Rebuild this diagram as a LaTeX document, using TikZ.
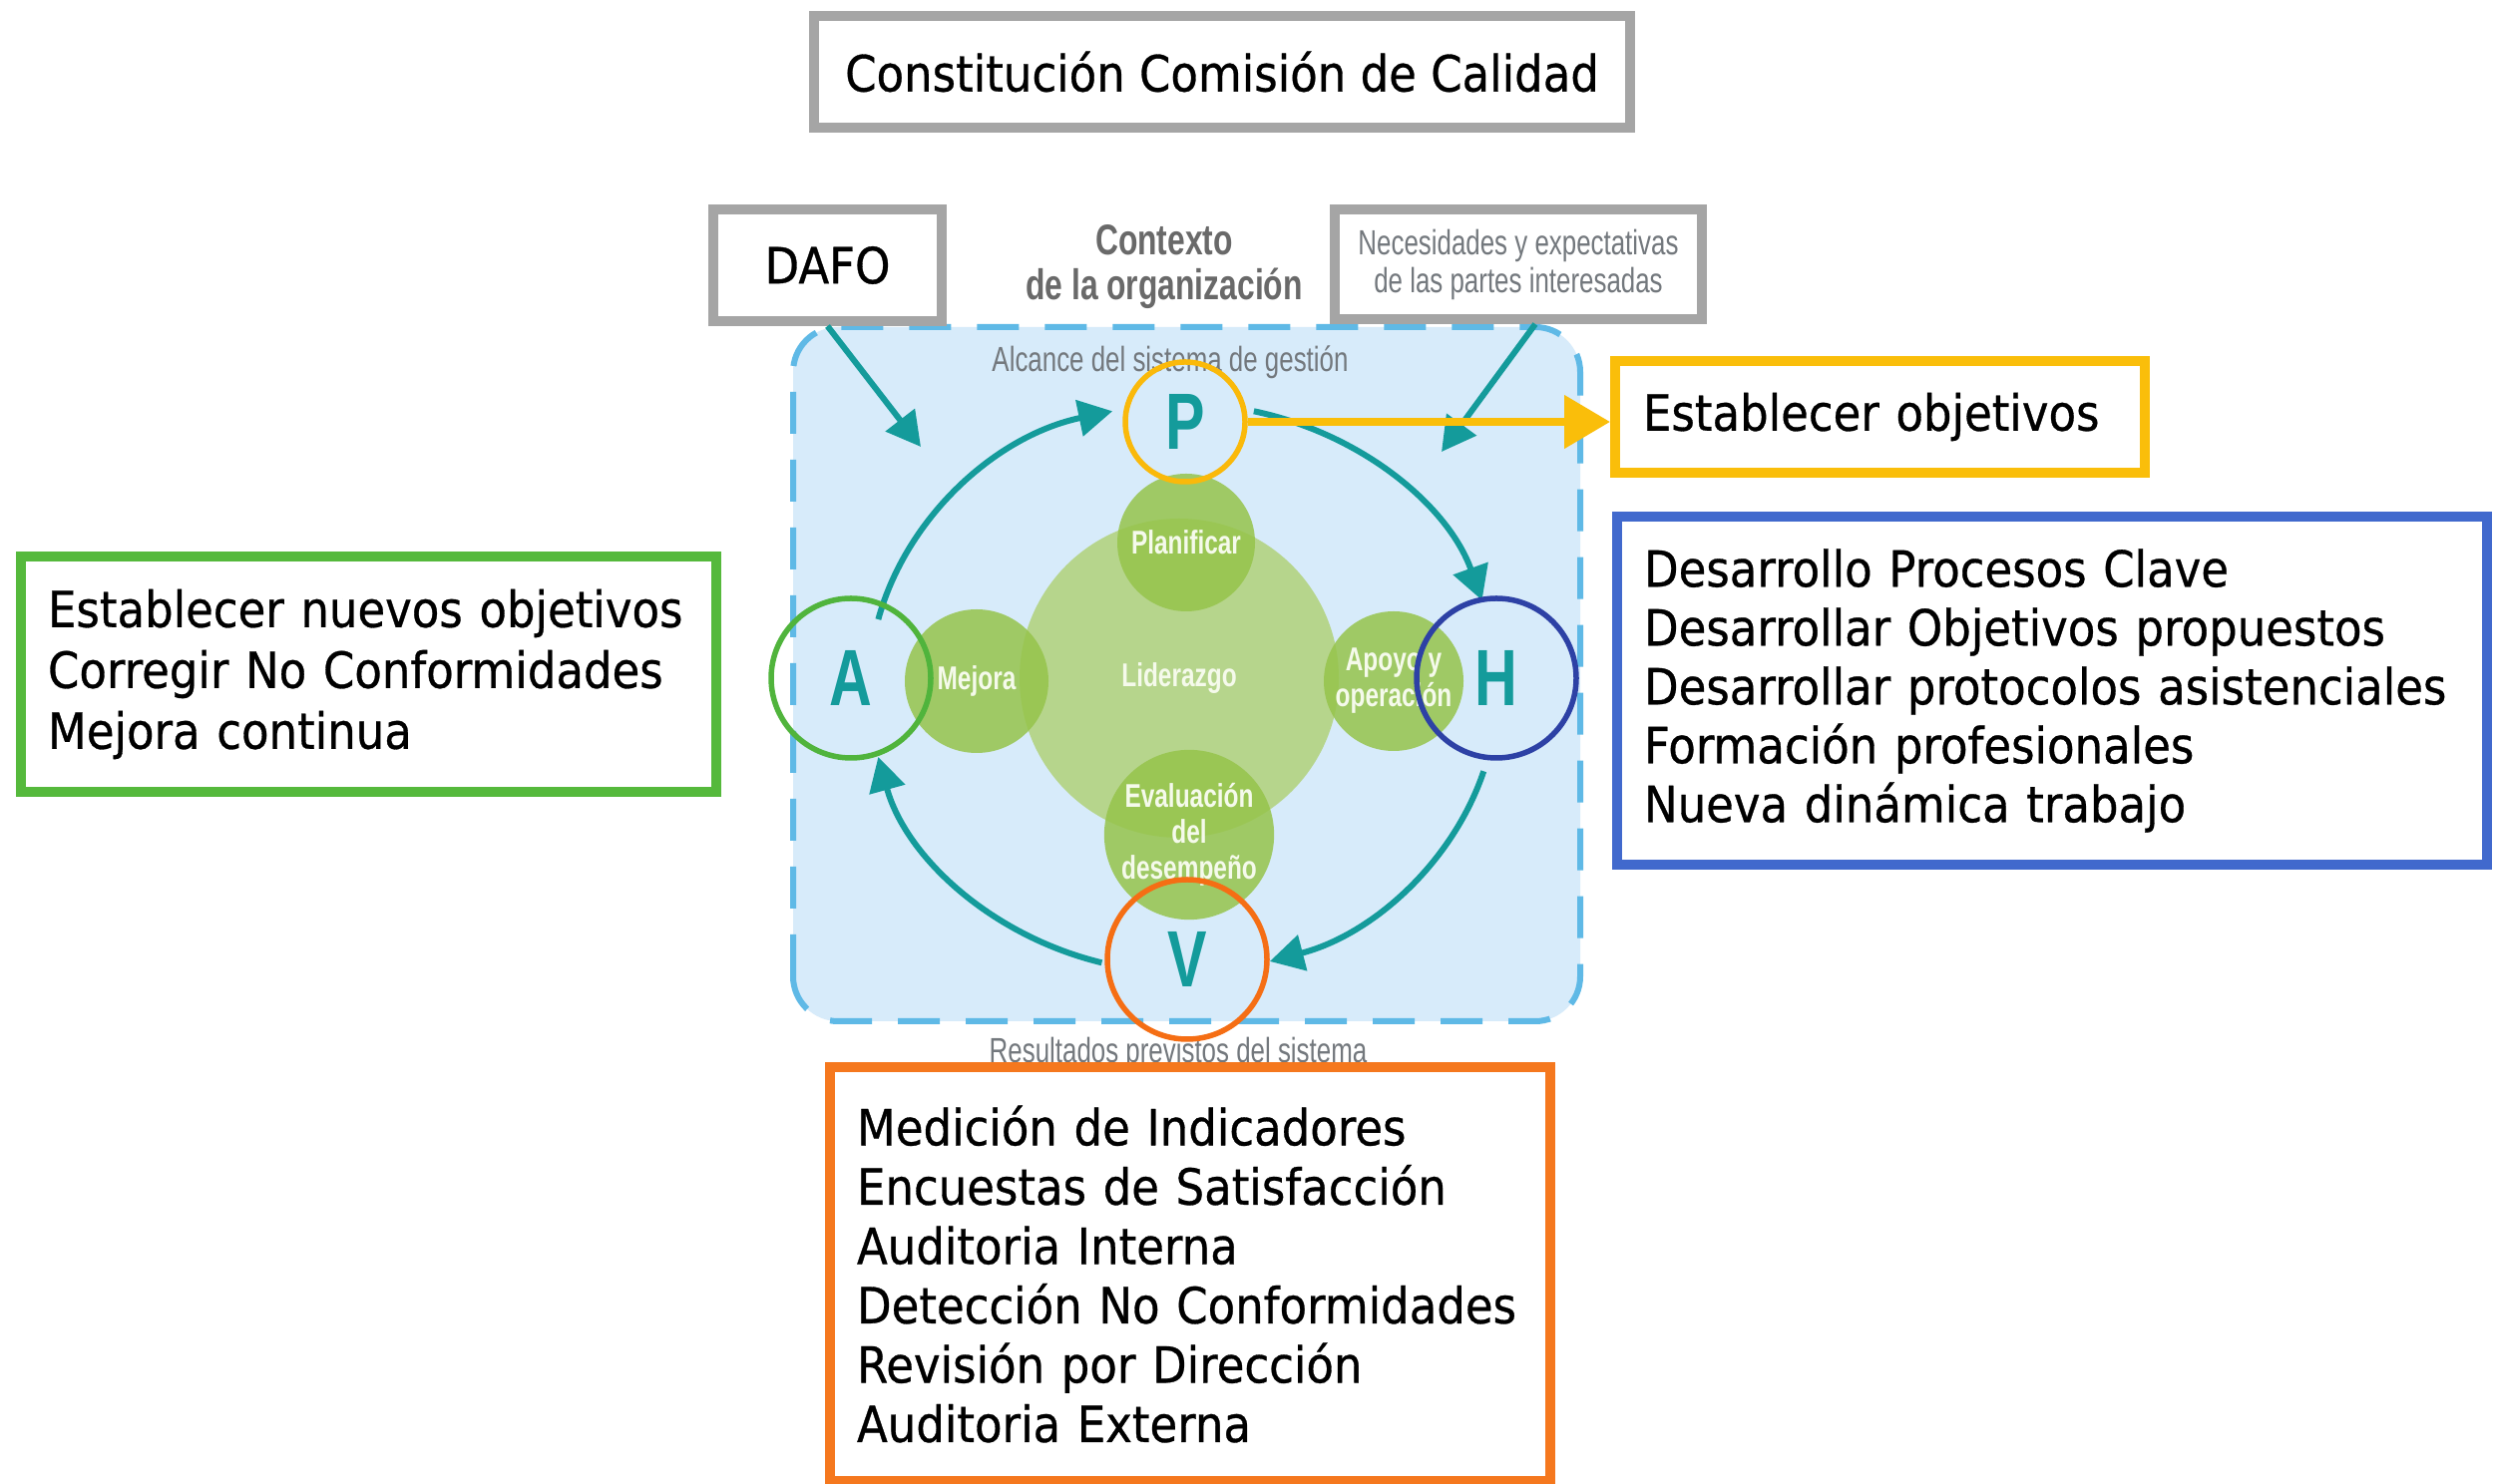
\documentclass[tikz,border=0pt]{standalone}
\usepackage{fontspec}
\setmainfont{DejaVu Sans}[FakeStretch=0.9,FakeBold=0.6]
\newfontfamily\condfont{Liberation Sans}[FakeStretch=0.74]
\usetikzlibrary{arrows.meta}
\definecolor{bgblue}{RGB}{215,235,250}
\definecolor{dashblue}{RGB}{95,185,230}
\definecolor{tealc}{RGB}{20,155,155}
\definecolor{lgreen}{RGB}{182,213,140}
\definecolor{mgreen}{RGB}{150,196,75}
\definecolor{ctxgray}{RGB}{105,105,105}
\definecolor{lblgray}{RGB}{115,120,125}
\definecolor{boxgray}{RGB}{165,165,165}
\definecolor{ycol}{RGB}{250,190,10}
\definecolor{bboxc}{RGB}{65,105,205}
\definecolor{gboxc}{RGB}{85,185,60}
\definecolor{oboxc}{RGB}{245,120,30}
\definecolor{hcol}{RGB}{45,65,165}
\definecolor{vcol}{RGB}{245,110,20}
\definecolor{acol}{RGB}{80,180,60}
\definecolor{pcol}{RGB}{250,185,10}
\definecolor{wtext}{RGB}{245,250,235}
\begin{document}
\begin{tikzpicture}[x=1pt,y=1pt,
  box/.style={draw, line width=10pt, inner ysep=0pt, text=black,
    font=\fontsize{50}{60}\selectfont},
  lbox/.style={box, align=left, inner xsep=27pt},
  gcirc/.style={circle, inner sep=0pt, fill=mgreen, fill opacity=0.85, text opacity=1,
    text=wtext, align=center, font=\condfont\bfseries\fontsize{33}{36}\selectfont},
  ring/.style={circle, draw, line width=5.5pt, inner sep=0pt, minimum size=160pt,
    text=tealc, font=\condfont\bfseries\fontsize{80}{80}\selectfont},
  cyc/.style={draw=tealc, line width=6pt, -{Triangle[length=34pt,width=36pt]}},
  lbl/.style={text=lblgray, font=\condfont\fontsize{35}{40}\selectfont}
]
\useasboundingbox (0,0) rectangle (2500,1488);
\fill[white] (0,0) rectangle (2500,1488);

% scope area
\draw[dashblue, fill=bgblue, line width=6pt, dash pattern=on 42pt off 26pt,
  rounded corners=45pt] (795,464) rectangle (1584,1160);

% green circles
\node[circle, inner sep=0pt, minimum size=320pt, fill=lgreen, text=wtext,
  font=\condfont\bfseries\fontsize{33}{36}\selectfont] (lid) at (1182,808) {Liderazgo};
\node[gcirc, minimum size=138pt] (plan) at (1189,944) {Planificar};
\node[gcirc, minimum size=144pt] (mej) at (979,805) {Mejora};
\node[gcirc, minimum size=140pt] (apo) at (1397,805) {Apoyo y\\operación};
\node[gcirc, minimum size=164pt] (eva) at (1192,651) {Evaluación\\del\\desempeño};

% labels
\node[lbl] (alc) at (1173,1125) {Alcance del sistema de gestión};
\node[lbl] (res) at (1181,432) {Resultados previstos del sistema};
\node[text=ctxgray, align=center, font=\condfont\bfseries\fontsize{43}{45}\selectfont]
  (ctx) at (1167,1220) {Contexto\\de la organización};

% cycle arrows
\coordinate (C) at (1186,798);
\draw[cyc] (C) ++(166:315 and 285) arc[start angle=166, end angle=103, x radius=315, y radius=285];
\draw[cyc] (C) ++(77:315 and 285) arc[start angle=77, end angle=18, x radius=315, y radius=285];
\draw[cyc] (C) ++(-17:315 and 285) arc[start angle=-17, end angle=-74, x radius=315, y radius=285];
\draw[cyc] (C) ++(-105:315 and 285) arc[start angle=-105, end angle=-166, x radius=315, y radius=285];

% PDCA rings
\node[ring, draw=pcol, minimum size=120pt] (P) at (1188,1065) {P};
\node[ring, draw=acol] (A) at (853,808) {A};
\node[ring, draw=hcol] (H) at (1500,808) {H};
\node[ring, draw=vcol] (V) at (1190,526) {V};

% boxes
\node[box, draw=boxgray, minimum width=818pt, minimum height=112pt] (top) at (1225,1416)
  {Constitución Comisión de Calidad};
\node[box, draw=boxgray, minimum width=229pt, minimum height=112pt] (dafo) at (829.5,1222) {DAFO};
\node[box, draw=boxgray, minimum width=368pt, minimum height=110pt, align=center, text=lblgray,
  font=\condfont\fontsize{35}{38}\selectfont] (nec) at (1522,1223)
  {Necesidades y expectativas\\de las partes interesadas};
\node[lbox, draw=ycol, minimum width=531pt, minimum height=112pt, text width=475pt,
  inner xsep=28pt] (estab) at (1884.5,1070) {Establecer objetivos};
\node[lbox, draw=bboxc, minimum width=872pt, minimum height=349pt, text width=818pt,
  font=\fontsize{50}{59}\selectfont] (hbox) at (2057,795.5)
  {Desarrollo Procesos Clave\\Desarrollar Objetivos propuestos\\Desarrollar protocolos asistenciales\\Formación profesionales\\Nueva dinámica trabajo};
\node[lbox, draw=gboxc, minimum width=697pt, minimum height=236pt, text width=643pt,
  font=\fontsize{50}{61}\selectfont] (abox) at (369.5,812)
  {Establecer nuevos objetivos\\Corregir No Conformidades\\Mejora continua};
\node[lbox, draw=oboxc, minimum width=722pt, minimum height=415pt, text width=668pt,
  font=\fontsize{50}{59.5}\selectfont] (vbox) at (1193,210.5)
  {Medición de Indicadores\\Encuestas de Satisfacción\\Auditoria Interna\\Detección No Conformidades\\Revisión por Dirección\\Auditoria Externa};

% input arrows
\coordinate (dafoEnd) at (923,1040);
\coordinate (necEnd) at (1445,1035);
\draw[cyc] (dafo.south) -- (dafoEnd);
\draw[cyc] ([xshift=17pt]nec.south) -- (necEnd);

% yellow arrow
\draw[ycol, line width=8pt, -{Triangle[length=46pt,width=52pt]}] (P.east) -- (P.east -| estab.west);
\end{tikzpicture}
\end{document}
